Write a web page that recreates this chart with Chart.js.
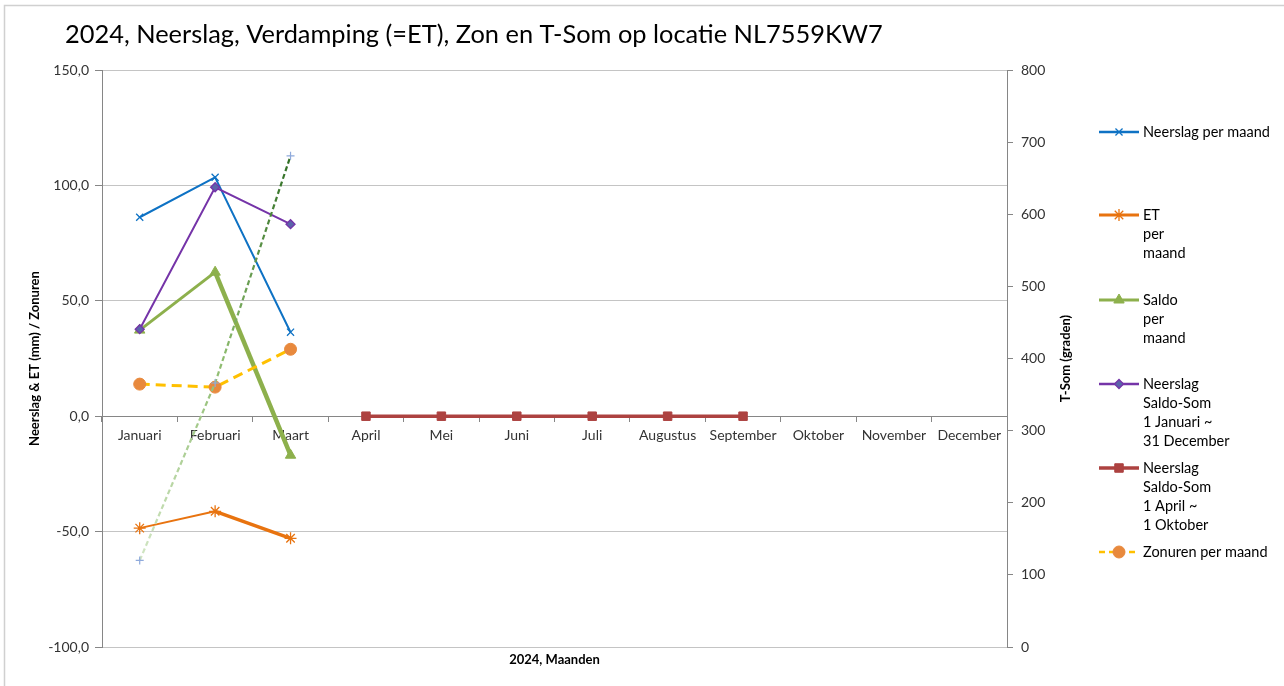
<!DOCTYPE html>
<html>
<head>
<meta charset="utf-8">
<script src="https://cdn.jsdelivr.net/npm/chart.js@4.4.1/dist/chart.umd.min.js"></script>
<style>
  html, body { margin: 0; padding: 0; background: #fff; }
  #wrap { position: relative; width: 1284px; height: 686px; }
</style>
</head>
<body>
<div id="wrap"><canvas id="c" width="1284" height="686"></canvas></div>
<script>
// ---- data ----
const categories = ['Januari','Februari','Maart','April','Mei','Juni','Juli','Augustus','September','Oktober','November','December'];
const neerslag = [86.2, 103.5, 36.4, null, null, null, null, null, null, null, null, null];
const et = [-48.5, -41.2, -52.9, null, null, null, null, null, null, null, null, null];
const saldo = [37.3, 62.4, -16.9, null, null, null, null, null, null, null, null, null];
const saldoSomJaar = [37.7, 99.2, 83.2, null, null, null, null, null, null, null, null, null];
const saldoSomApr = [null, null, null, 0, 0, 0, 0, 0, 0, null, null, null];
const zonuren = [13.9, 12.6, 29.0, null, null, null, null, null, null, null, null, null];
const tSom = [120, 366, 681, null, null, null, null, null, null, null, null, null];

const chartTitle = '2024, Neerslag, Verdamping (=ET), Zon en T-Som op locatie NL7559KW7';
const xTitle = '2024, Maanden';
const yTitle = 'Neerslag & ET (mm) / Zonuren';
const y1Title = 'T-Som (graden)';
const legendLabels = [
  ['Neerslag per maand'],
  ['ET', 'per', 'maand'],
  ['Saldo', 'per', 'maand'],
  ['Neerslag', 'Saldo-Som', '1 Januari ~', '31 December'],
  ['Neerslag', 'Saldo-Som', '1 April ~', '1 Oktober'],
  ['Zonuren per maand']
];

const FONT = 'Lato, "Open Sans", sans-serif';
const TXT = '#333333';
const AX = '#868686';

function tSomGradient(ctx) {
  const chart = ctx.chart;
  if (!chart.chartArea || !chart.scales.y1) return '#5a9a3a';
  const s = chart.scales.y1;
  const g = chart.ctx.createLinearGradient(0, s.getPixelForValue(120), 0, s.getPixelForValue(680));
  g.addColorStop(0, '#d2e6c4');
  g.addColorStop(0.5, '#8dbb6e');
  g.addColorStop(1, '#2f6e24');
  return g;
}

const datasets = [
  { label: 'Neerslag per maand', data: neerslag, yAxisID: 'y', borderColor: '#0e72c4', backgroundColor: '#0e72c4',
    borderWidth: 2, pointStyle: 'crossRot', pointRadius: 5, pointBorderWidth: 1.3, pointBorderColor: '#0e72c4', order: 3 },
  { label: 'ET per maand', data: et, yAxisID: 'y', borderColor: '#e8730f', backgroundColor: '#e8730f',
    borderWidth: 2.5, segment: { borderWidth: c => c.p0DataIndex === 1 ? 3.5 : 2 },
    pointStyle: 'star', pointRadius: 6, pointBorderWidth: 1.3, pointBorderColor: '#e8730f', order: 4 },
  { label: 'Saldo per maand', data: saldo, yAxisID: 'y', borderColor: '#8db04c', backgroundColor: '#8db04c',
    borderWidth: 3.5, segment: { borderWidth: c => c.p0DataIndex === 1 ? 4.5 : 3 },
    pointStyle: 'triangle', pointRadius: 6, pointBorderWidth: 1, pointBorderColor: '#8db04c', order: 5 },
  { label: 'Neerslag Saldo-Som 1 Januari ~ 31 December', data: saldoSomJaar, yAxisID: 'y', borderColor: '#7534a8', backgroundColor: '#5b63aa',
    borderWidth: 2, pointStyle: 'rectRot', pointRadius: 4.5, pointBorderWidth: 1.3, pointBorderColor: '#7534a8', order: 2 },
  { label: 'Neerslag Saldo-Som 1 April ~ 1 Oktober', data: saldoSomApr, yAxisID: 'y', borderColor: '#ad4240', backgroundColor: '#ad4240',
    borderWidth: 3.5, pointStyle: 'rect', pointRadius: 6, pointBorderWidth: 1, pointBorderColor: '#ad4240', order: 6 },
  { label: 'Zonuren per maand', data: zonuren, yAxisID: 'y', borderColor: '#ffc000', backgroundColor: '#e8893d',
    borderWidth: 3, borderDash: [10, 6], pointStyle: 'circle', pointRadius: 6, pointBorderWidth: 1, pointBorderColor: '#e8893d', order: 1 },
  { label: 'T-Som', data: tSom, yAxisID: 'y1', borderColor: tSomGradient, backgroundColor: '#8faadc',
    borderWidth: 2.2, borderDash: [5, 3], pointStyle: 'cross', pointRadius: 4, pointBorderWidth: 1.2, pointBorderColor: '#8faadc', order: 0, inLegend: false }
];

const decor = {
  id: 'decor',
  afterDraw(chart) {
    const ctx = chart.ctx;
    const a = chart.chartArea;
    ctx.save();
    // outer frame
    ctx.strokeStyle = '#d0d0d0';
    ctx.lineWidth = 1.5;
    ctx.strokeRect(4.5, 5.5, 1400, 1000);
    // title
    ctx.fillStyle = '#000';
    ctx.font = '25.4px ' + FONT;
    ctx.textAlign = 'left';
    ctx.textBaseline = 'middle';
    ctx.fillText(chartTitle, 65, 35);
    // x title
    ctx.fillStyle = '#000';
    ctx.font = 'bold 13px ' + FONT;
    ctx.textAlign = 'center';
    ctx.fillText(xTitle, (a.left + a.right) / 2, 660);
    // y titles
    ctx.save();
    ctx.translate(35, (a.top + a.bottom) / 2);
    ctx.rotate(-Math.PI / 2);
    ctx.fillText(yTitle, 0, 0);
    ctx.restore();
    ctx.save();
    ctx.translate(1066, (a.top + a.bottom) / 2);
    ctx.rotate(-Math.PI / 2);
    ctx.fillText(y1Title, 0, 0);
    ctx.restore();
    // legend
    const ys = [132, 215, 300, 384, 468, 552];
    const items = chart.data.datasets.filter(d => d.inLegend !== false);
    items.forEach((ds, i) => {
      const y = ys[i];
      ctx.save();
      ctx.strokeStyle = ds.borderColor;
      ctx.lineWidth = i === 4 ? 3.5 : (i === 1 || i === 2 ? 3 : 2.5);
      ctx.setLineDash(ds.borderDash ? [6, 4] : []);
      ctx.beginPath();
      ctx.moveTo(1099, y);
      ctx.lineTo(1139, y);
      ctx.stroke();
      ctx.restore();
      ctx.save();
      ctx.fillStyle = ds.backgroundColor;
      ctx.strokeStyle = ds.pointBorderColor;
      ctx.lineWidth = ds.pointBorderWidth;
      ctx.setLineDash([]);
      Chart.helpers.drawPoint(ctx, {
        pointStyle: ds.pointStyle, radius: ds.pointRadius, rotation: 0,
        borderWidth: ds.pointBorderWidth
      }, 1119, y);
      ctx.restore();
      ctx.fillStyle = '#000';
      ctx.font = '14.5px ' + FONT;
      ctx.textAlign = 'left';
      ctx.textBaseline = 'middle';
      legendLabels[i].forEach((t, k) => ctx.fillText(t, 1143, y + k * 19));
    });
    ctx.restore();
  }
};

new Chart(document.getElementById('c'), {
  type: 'line',
  data: { labels: categories, datasets },
  options: {
    responsive: false,
    animation: false,
    spanGaps: false,
    layout: { padding: { left: 0, right: 197, top: 70, bottom: 39 } },
    plugins: { legend: { display: false }, title: { display: false }, tooltip: { enabled: false } },
    elements: { line: { tension: 0, fill: false } },
    scales: {
      x: {
        position: { y: 0 },
        offset: true,
        grid: { drawOnChartArea: false, offset: true, tickLength: 5, tickColor: AX, lineWidth: 1 },
        border: { display: true, color: AX },
        ticks: { color: TXT, font: { family: FONT, size: 14 }, padding: 6, maxRotation: 0, autoSkip: false }
      },
      y: {
        position: 'left',
        min: -100, max: 150,
        afterFit: s => { s.width = 102; },
        ticks: { stepSize: 50, color: TXT, font: { family: FONT, size: 14 }, padding: 6,
          callback: v => v.toFixed(1).replace('.', ',') },
        grid: { color: c => c.tick && c.tick.value === 0 ? AX : '#c4c4c4', tickLength: 7, tickColor: AX, lineWidth: 1 },
        border: { display: true, color: AX }
      },
      y1: {
        position: 'right',
        min: 0, max: 800,
        afterFit: s => { s.width = 80; },
        ticks: { stepSize: 100, color: TXT, font: { family: FONT, size: 14 }, padding: 8 },
        grid: { drawOnChartArea: false, tickLength: 6, tickColor: AX },
        border: { display: true, color: AX }
      }
    }
  },
  plugins: [decor]
});
</script>
</body>
</html>
